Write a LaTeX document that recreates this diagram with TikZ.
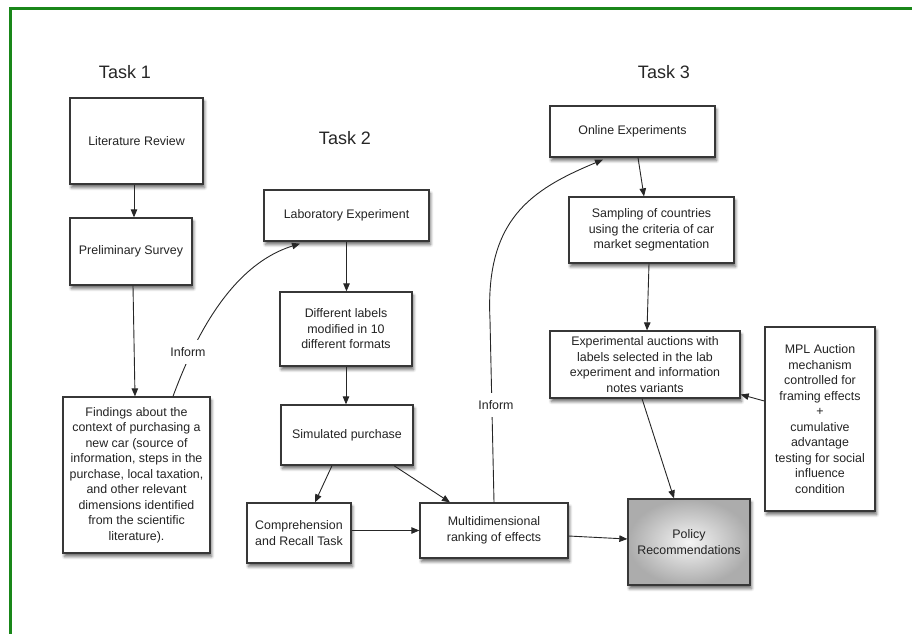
\documentclass[tikz,border=0pt]{standalone}
\usepackage{fontspec}
\setmainfont{Liberation Sans}
\usetikzlibrary{arrows.meta,calc,shadows.blur}

\definecolor{framegreen}{RGB}{25,135,25}
\definecolor{boxline}{RGB}{55,55,55}
\definecolor{boxtext}{RGB}{35,35,35}

\tikzset{
  box/.style={draw=boxline, line width=1.3pt, fill=white, align=center,
    text=boxtext, inner sep=2pt,
    font=\fontsize{12.4}{15.5}\selectfont,
    blur shadow={shadow xshift=1.5pt, shadow yshift=-3.5pt,
      shadow blur steps=6, shadow blur radius=3pt, shadow opacity=60}},
  tasklabel/.style={font=\fontsize{18}{20}\selectfont, text=black!85},
  flow/.style={draw=black!85, line width=0.9pt,
    -{Triangle[length=8pt,width=6.5pt]}},
  informlabel/.style={fill=white, inner xsep=2pt, inner ysep=7pt,
    text=boxtext, font=\fontsize{12.4}{15}\selectfont}
}

\begin{document}
\begin{tikzpicture}[x=1pt,y=-1pt]
\useasboundingbox (0,0) rectangle (912,633);

% green frame along the top and left
\draw[framegreen, line width=3pt] (10,640) -- (10,8) -- (920,8);

% task headings
\node[tasklabel] (t1) at (125,72) {Task 1};
\node[tasklabel] (t2) at (345,138) {Task 2};
\node[tasklabel] (t3) at (664,72) {Task 3};

% Task 1
\node[box, minimum width=133pt, minimum height=86pt] (lit) at (136.5,141) {Literature Review};
\node[box, minimum width=122pt, minimum height=67pt] (pre) at (131,251.5) {Preliminary Survey};
\node[box, minimum width=147pt, minimum height=156pt] (find) at (136.5,475)
  {Findings about the\\context of purchasing a\\new car (source of\\information, steps in the\\purchase, local taxation,\\and other relevant\\dimensions identified\\from the scientific\\literature).};

% Task 2
\node[box, minimum width=165pt, minimum height=51pt] (lab) at (346.5,215.5) {Laboratory Experiment};
\node[box, minimum width=132pt, minimum height=74pt] (diff) at (346,329) {Different labels\\modified in 10\\different formats};
\node[box, minimum width=132pt, minimum height=60pt] (sim) at (347,435) {Simulated purchase};
\node[box, minimum width=104pt, minimum height=60pt] (comp) at (299,533) {Comprehension\\and Recall Task};
\node[box, minimum width=148pt, minimum height=55pt] (multi) at (494,530.5) {Multidimensional\\ranking of effects};

% Task 3
\node[box, minimum width=165pt, minimum height=51pt] (online) at (632.5,131.5) {Online Experiments};
\node[box, minimum width=165pt, minimum height=66pt] (samp) at (651.5,230) {Sampling of countries\\using the criteria of car\\market segmentation};
\node[box, minimum width=190pt, minimum height=67pt] (auct) at (645,364.5) {Experimental auctions with\\labels selected in the lab\\experiment and information\\notes variants};
\node[box, minimum width=110pt, minimum height=184pt] (mpl) at (820,419) {MPL Auction\\mechanism\\controlled for\\framing effects\\+\\cumulative\\advantage\\testing for social\\influence\\condition};
\node[box, minimum width=122pt, minimum height=86pt, shading=radial,
  inner color=gray!8, outer color=gray!65] (pol) at (689,542) {Policy\\Recommendations};

% connectors
\draw[flow] ($(lit.south)+(-2.5,0)$) -- ($(pre.north)+(3,0)$);
\draw[flow] ($(pre.south)+(2,0)$) -- ($(find.north)+(-1.5,0)$);
\draw[flow] ($(find.north)+(36.5,0)$) .. controls (192,345) and (228,266) .. ($(lab.south)+(-46.5,2)$);
\node[informlabel] (inf1) at (188,352) {Inform};

\draw[flow] (lab.south) -- (lab.south |- diff.north);
\draw[flow] (diff.south) -- (diff.south |- sim.north);
\draw[flow] ($(sim.south)+(-15,0)$) -- ($(comp.north)+(16,0)$);
\draw[flow] ($(sim.south)+(47,0)$) -- ($(multi.north)+(-44,0)$);
\draw[flow] (comp.east |- multi.west) -- (multi.west);
\draw[flow] ($(multi.east)+(0,5.5)$) -- ($(pol.west)+(0,-3)$);

\draw[flow] (multi.north) -- (490,320) .. controls (485,220) and (530,190) .. ($(online.south)+(-29.5,2)$);
\node[informlabel] (inf2) at (496,405) {Inform};

\draw[flow] ($(online.south)+(5.5,0)$) -- ($(samp.north)+(-7.5,0)$);
\draw[flow] ($(samp.south)+(-2.5,0)$) -- ($(auct.north)+(2,0)$);
\draw[flow] ($(auct.south)+(-3,0)$) -- ($(pol.north)+(-15,0)$);
\draw[flow] ($(mpl.west)+(0,-18)$) -- ($(auct.east)+(0,30)$);

\end{tikzpicture}
\end{document}
